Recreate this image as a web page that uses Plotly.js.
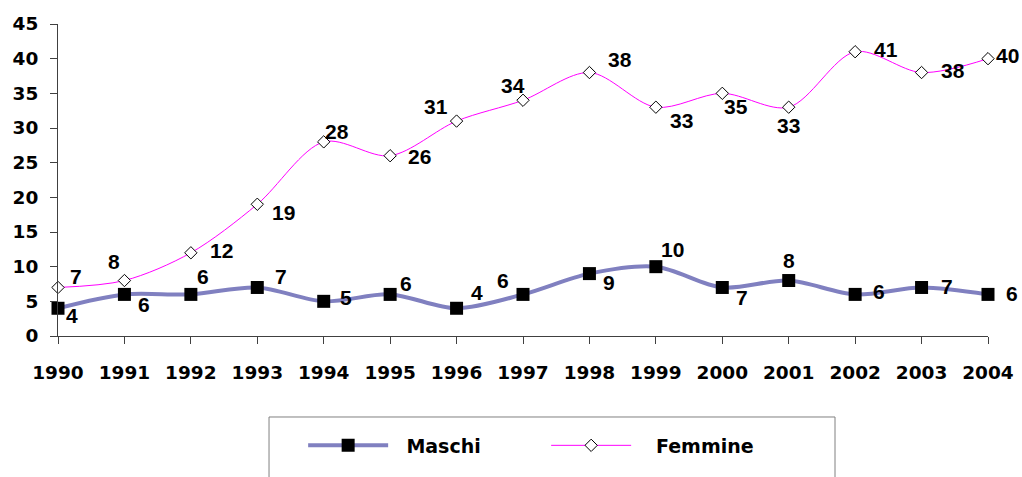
<!DOCTYPE html>
<html>
<head>
<meta charset="utf-8">
<script src="https://cdn.plot.ly/plotly-3.0.1.min.js"></script>
<style>html,body{margin:0;padding:0;background:#fff;}#chart{width:1022px;height:477px;}</style>
</head>
<body>
<div id="chart"></div>
<script>
// ---- data ----
const years = [1990, 1991, 1992, 1993, 1994, 1995, 1996, 1997, 1998, 1999, 2000, 2001, 2002, 2003, 2004];
const maschi = [4, 6, 6, 7, 5, 6, 4, 6, 9, 10, 7, 8, 6, 7, 6];
const femmine = [7, 8, 12, 19, 28, 26, 31, 34, 38, 33, 35, 33, 41, 38, 40];
const seriesNames = ['Maschi', 'Femmine'];
const yTicks = [0, 5, 10, 15, 20, 25, 30, 35, 40, 45];

// ---- label placement (pixel offsets from each point: [dx, dy down]) ----
const maschiLabelOffsets = [[14,7],[20,10],[12,-18],[24,-11],[22,-4],[16,-11],[20,-16],[-20,-14],[20,9],[17,-17],[20,10],[0,-20],[24,-3],[25,-1],[24,-1]];
const femmineLabelOffsets = [[18,-11],[-10,-19],[31,-2],[26,8],[13,-10],[29,1],[-21,-15],[-10,-15],[31,-13],[26,13],[14,13],[0,18],[31,-2],[31,-2],[19,-3]];

const labelFont = {family: 'Liberation Sans, Arial, sans-serif', size: 21, color: '#000'};
const tickFont = {family: 'DejaVu Sans, sans-serif', size: 18.5, color: '#000', weight: 'bold'};

function labels(xs, ys, offs) {
  return xs.map((x, i) => ({
    x: x, y: ys[i], xref: 'x', yref: 'y',
    text: '<b>' + ys[i] + '</b>', showarrow: false,
    xanchor: 'center', yanchor: 'middle',
    xshift: offs[i][0], yshift: -offs[i][1],
    font: labelFont
  }));
}

const traces = [
  {
    x: years, y: maschi, name: '\u00a0\u00a0' + seriesNames[0], type: 'scatter', mode: 'lines+markers',
    line: {color: '#8080C0', width: 4, shape: 'spline', smoothing: 0.9},
    marker: {symbol: 'square', size: 13, color: '#000', line: {width: 0}},
    cliponaxis: false
  },
  {
    x: years, y: femmine, name: '\u00a0\u00a0\u00a0' + seriesNames[1], type: 'scatter', mode: 'lines+markers',
    line: {color: '#FF00FF', width: 1, shape: 'spline', smoothing: 0.9},
    marker: {symbol: 'diamond', size: 9.5, color: '#fff', line: {color: '#000', width: 1}},
    cliponaxis: false
  }
];

const layout = {
  width: 1022, height: 477,
  margin: {l: 58, r: 34, t: 24, b: 141},
  paper_bgcolor: '#fff', plot_bgcolor: '#fff',
  showlegend: true,
  legend: {
    orientation: 'h', x: 0.2636, y: -0.29, xanchor: 'left', yanchor: 'top',
    font: {family: 'DejaVu Sans, sans-serif', size: 19, color: '#000', weight: 'bold'},
    itemwidth: 80, entrywidth: 148, entrywidthmode: 'pixels',
    bgcolor: 'rgba(0,0,0,0)', borderwidth: 0
  },
  xaxis: {
    type: 'linear', range: [1990, 2004], tickmode: 'array', tickvals: years,
    ticktext: years.map(String),
    showgrid: false, zeroline: false, showline: true, linecolor: '#404040', linewidth: 1,
    ticks: 'outside', ticklen: 7, tickcolor: '#404040', tickwidth: 1,
    tickfont: tickFont, ticklabelstandoff: 13
  },
  yaxis: {
    range: [0, 45], tickmode: 'array', tickvals: yTicks,
    showgrid: false, zeroline: false, showline: true, linecolor: '#404040', linewidth: 1,
    ticks: 'outside', ticklen: 7, tickcolor: '#404040', tickwidth: 1,
    tickfont: tickFont, ticklabelstandoff: 8
  },
  shapes: [{
    type: 'rect', xref: 'paper', yref: 'paper',
    x0: 0.2269, x1: 0.8355, y0: -0.2596, y1: -0.55,
    line: {color: '#808080', width: 1}, fillcolor: 'rgba(0,0,0,0)'
  }],
  annotations: labels(years, maschi, maschiLabelOffsets).concat(labels(years, femmine, femmineLabelOffsets))
};

Plotly.newPlot('chart', traces, layout, {displayModeBar: false, staticPlot: true});
</script>
</body>
</html>
